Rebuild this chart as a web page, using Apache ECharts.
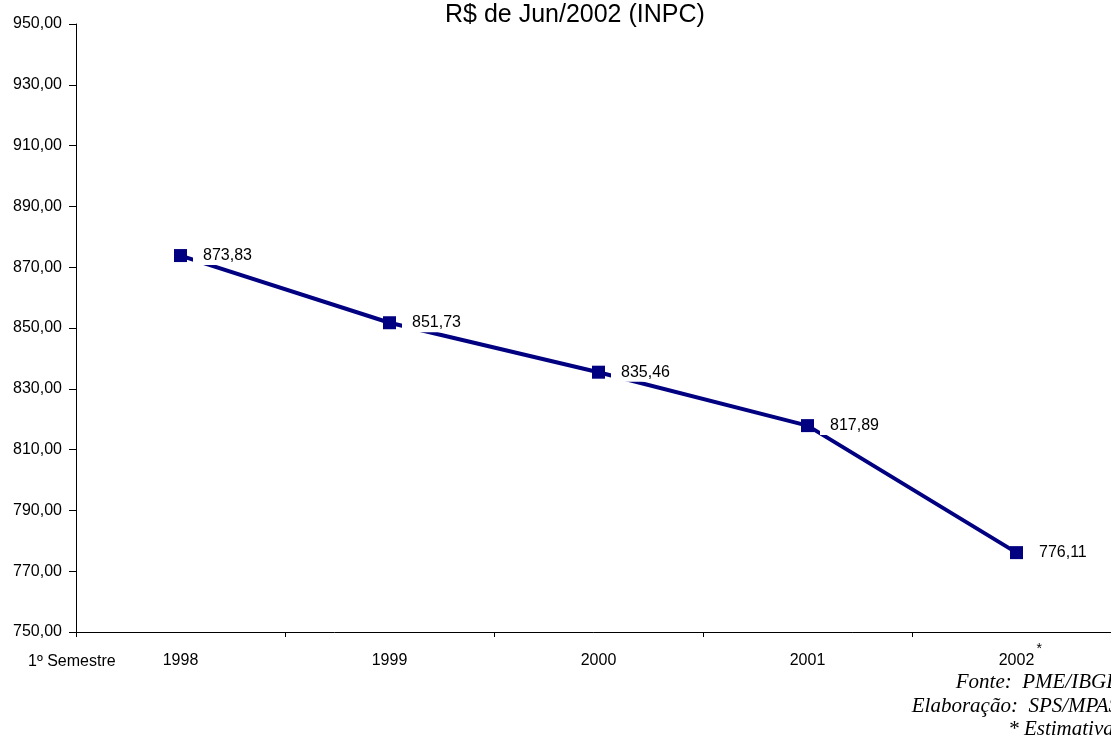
<!DOCTYPE html>
<html>
<head>
<meta charset="utf-8">
<script src="https://cdn.jsdelivr.net/npm/echarts@6/dist/echarts.min.js"></script>
<style>
html,body{margin:0;padding:0;background:#fff;}
#chart{width:1111px;height:747px;}
</style>
</head>
<body>
<div id="chart"></div>
<script>
// Rendimento médio real, 1º semestre de cada ano
const years = ['1998', '1999', '2000', '2001', '2002'];
const values = [873.83, 851.73, 835.46, 817.89, 776.11];
const estimatedYear = '2002';
const yMin = 750, yMax = 950, yStep = 20;
const titleText = 'R$ de Jun/2002 (INPC)';
const sourceLines = ['Fonte:  PME/IBGE', 'Elaboração:  SPS/MPAS', '* Estimativa.'];

const fmt = v => v.toFixed(2).replace('.', ',');
const font = 'Liberation Sans, Arial, sans-serif';
const serif = 'Liberation Serif, Times New Roman, serif';

const chart = echarts.init(document.getElementById('chart'));
const baseGraphics = [
  { type: 'text', left: 445, top: 3,
    style: { text: titleText, fontFamily: font, fontSize: 25, fill: '#000' } },
  { type: 'text', left: 28, top: 654,
    style: { text: '1º Semestre', fontFamily: font, fontSize: 16, fill: '#000' } },
  ...sourceLines.map((t, i) => ({
    type: 'text', right: -8, top: 672 + i * 23.5,
    style: { text: t, fontFamily: serif, fontStyle: 'italic',
             fontSize: 21, fill: '#000', align: 'right' }
  }))
];

chart.setOption({
  backgroundColor: '#fff',
  animation: false,
  grid: { left: 76, width: 1045, top: 24, height: 608, containLabel: false, outerBoundsMode: 'none' },
  xAxis: {
    type: 'category',
    data: years,
    boundaryGap: true,
    axisLine: { lineStyle: { color: '#000', width: 1 } },
    axisTick: { show: true, length: 5, lineStyle: { color: '#000' } },
    axisLabel: { color: '#000', fontFamily: font, fontSize: 16, margin: 21 }
  },
  yAxis: {
    type: 'value',
    min: yMin, max: yMax, interval: yStep,
    axisLine: { show: true, lineStyle: { color: '#000', width: 1 } },
    axisTick: { show: true, length: 7, lineStyle: { color: '#000' } },
    splitLine: { show: false },
    axisLabel: { color: '#000', fontFamily: font, fontSize: 16, margin: 14, formatter: v => fmt(v) }
  },
  series: [{
    type: 'line',
    data: values,
    symbol: 'rect',
    symbolSize: 13,
    lineStyle: { color: '#000080', width: 4 },
    itemStyle: { color: '#000080' },
    z: 2,
    label: {
      show: true, position: 'right', distance: 6,
      color: '#000', fontFamily: font, fontSize: 16,
      backgroundColor: '#fff', padding: [2, 4, 1, 10],
      formatter: p => fmt(p.value)
    }
  }],
  graphic: baseGraphics
});

// asterisk marking the estimated year, placed beside its axis label
const ax = chart.convertToPixel({ xAxisIndex: 0 }, estimatedYear);
const ay = chart.convertToPixel({ yAxisIndex: 0 }, yMin);
chart.setOption({
  graphic: baseGraphics.concat([{
    type: 'text', x: ax + 20, y: ay + 10,
    style: { text: '*', fontFamily: font, fontSize: 14, fill: '#000' }
  }])
});
</script>
</body>
</html>
